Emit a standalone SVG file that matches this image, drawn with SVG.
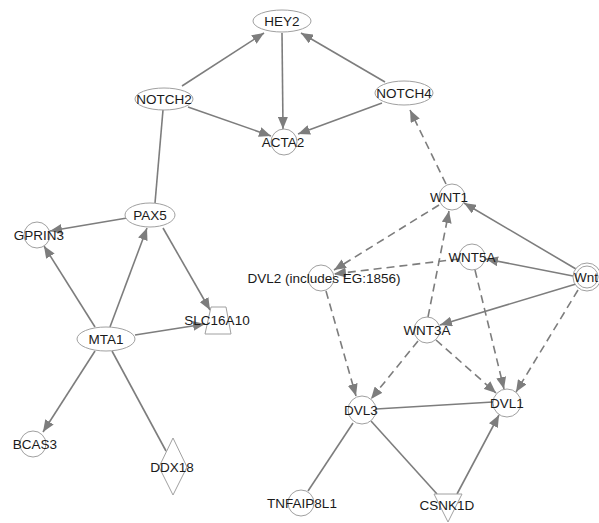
<svg xmlns="http://www.w3.org/2000/svg" width="599" height="523" viewBox="0 0 599 523">
<defs>
<style>
.n{fill:#fff;stroke:#a0a0a0;stroke-width:1}
.t{font-family:"Liberation Sans",Arial,sans-serif;font-size:13.5px;fill:#1a1a1a;text-anchor:middle}
.e{stroke:#7d7d7d;stroke-width:1.6;fill:none}
.d{stroke:#7d7d7d;stroke-width:1.6;fill:none;stroke-dasharray:8,5}
.a{marker-end:url(#ah)}
</style>
<marker id="ah" markerUnits="userSpaceOnUse" markerWidth="12" markerHeight="10" refX="12" refY="5" orient="auto">
<path d="M0,0 L12,5 L0,10 z" fill="#7d7d7d"/>
</marker>
</defs>
<rect width="599" height="523" fill="#fff"/>
<g id="connectors">
<line class="e a" x1="182" y1="86" x2="264" y2="33"/>
<line class="e a" x1="282" y1="33" x2="283" y2="129"/>
<line class="e a" x1="385" y1="82" x2="301" y2="33"/>
<line class="e a" x1="188" y1="107" x2="271" y2="136"/>
<line class="e a" x1="382" y1="103" x2="298" y2="134"/>
<line class="e" x1="163" y1="110" x2="155" y2="203"/>
<line class="d a" x1="446" y1="184" x2="410" y2="110"/>
<line class="e a" x1="127" y1="218" x2="50" y2="231"/>
<line class="e a" x1="95" y1="327" x2="44" y2="246"/>
<line class="e a" x1="110" y1="327" x2="147" y2="228"/>
<line class="e a" x1="163" y1="228" x2="210" y2="310"/>
<line class="e a" x1="135" y1="335" x2="205" y2="324"/>
<line class="e a" x1="95" y1="351" x2="43" y2="432"/>
<line class="e" x1="112" y1="351" x2="166" y2="451"/>
<line class="e a" x1="576" y1="269" x2="464" y2="203"/>
<line class="e a" x1="573" y1="276" x2="486" y2="259"/>
<line class="e a" x1="576" y1="284" x2="440" y2="325"/>
<line class="d a" x1="578" y1="290" x2="516" y2="392"/>
<line class="d a" x1="439" y1="205" x2="334" y2="270"/>
<line class="d a" x1="459" y1="259" x2="334" y2="274"/>
<line class="d a" x1="428" y1="317" x2="449" y2="211"/>
<line class="d a" x1="475" y1="270" x2="504" y2="389"/>
<line class="d a" x1="418" y1="341" x2="371" y2="399"/>
<line class="d a" x1="436" y1="340" x2="496" y2="393"/>
<line class="d a" x1="326" y1="291" x2="356" y2="396"/>
<line class="e" x1="376" y1="409" x2="493" y2="402"/>
<line class="e" x1="353" y1="423" x2="308" y2="491"/>
<line class="e" x1="371" y1="421" x2="437" y2="494"/>
<line class="e a" x1="457" y1="494" x2="499" y2="415"/>
</g>
<g id="HEY2"><ellipse class="n" cx="282" cy="21" rx="29" ry="11"/><text class="t" x="282" y="26">HEY2</text></g>
<g id="NOTCH2"><ellipse class="n" cx="164" cy="99" rx="29" ry="11"/><text class="t" x="164" y="104">NOTCH2</text></g>
<g id="NOTCH4"><ellipse class="n" cx="404" cy="93" rx="29" ry="12"/><text class="t" x="404" y="98">NOTCH4</text></g>
<g id="ACTA2"><circle class="n" cx="284" cy="142" r="13"/><text class="t" x="283" y="147">ACTA2</text></g>
<g id="PAX5"><ellipse class="n" cx="150" cy="215" rx="25" ry="12"/><text class="t" x="150" y="220">PAX5</text></g>
<g id="GPRIN3"><circle class="n" cx="37" cy="235" r="13"/><text class="t" x="39" y="240">GPRIN3</text></g>
<g id="MTA1"><ellipse class="n" cx="106" cy="339" rx="29" ry="12"/><text class="t" x="106" y="344">MTA1</text></g>
<g id="SLC16A10"><path class="n" d="M211,307 L226,307 L231,334 L205,334 Z"/><text class="t" x="217" y="325">SLC16A10</text></g>
<g id="BCAS3"><circle class="n" cx="33" cy="444" r="13"/><text class="t" x="35" y="449">BCAS3</text></g>
<g id="DDX18"><path class="n" d="M173,438 L187,467 L173,495 L159,467 Z"/><text class="t" x="172" y="472">DDX18</text></g>
<g id="WNT1"><circle class="n" cx="452" cy="197" r="13"/><text class="t" x="449" y="202">WNT1</text></g>
<g id="WNT5A"><circle class="n" cx="472" cy="257" r="13"/><text class="t" x="472" y="262">WNT5A</text></g>
<g id="Wnt"><circle class="n" cx="587" cy="277" r="14"/><circle class="n" cx="587" cy="277" r="11"/><text class="t" x="598" y="282" style="text-anchor:end">Wnt</text></g>
<g id="DVL2"><circle class="n" cx="321" cy="278" r="13"/><text class="t" x="324" y="283">DVL2 (includes EG:1856)</text></g>
<g id="WNT3A"><circle class="n" cx="427" cy="330" r="13"/><text class="t" x="427" y="335">WNT3A</text></g>
<g id="DVL3"><circle class="n" cx="362" cy="410" r="14"/><text class="t" x="361" y="415">DVL3</text></g>
<g id="DVL1"><circle class="n" cx="507" cy="403" r="14"/><text class="t" x="507" y="408">DVL1</text></g>
<g id="TNFAIP8L1"><circle class="n" cx="301" cy="503" r="13"/><text class="t" x="302" y="508">TNFAIP8L1</text></g>
<g id="CSNK1D"><path class="n" d="M434,494 L462,494 L448,522 Z"/><text class="t" x="447" y="510">CSNK1D</text></g>
</svg>
